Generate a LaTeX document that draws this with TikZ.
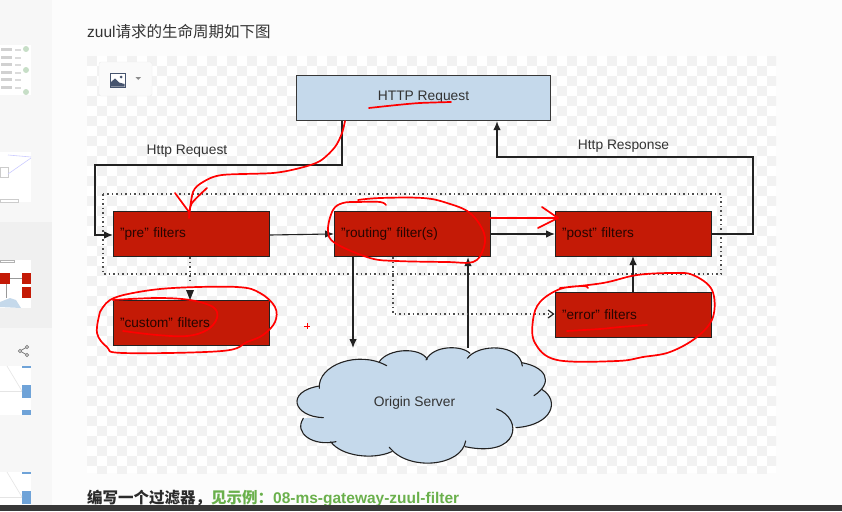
\documentclass[tikz,border=0pt]{standalone}
\usepackage{fontspec}
\setmainfont{Liberation Sans}
\newfontfamily\cjk{Noto Sans CJK SC}
\usetikzlibrary{arrows.meta,calc}
\definecolor{boxred}{HTML}{C41A06}
\definecolor{boxblue}{HTML}{C5D9EB}
\definecolor{ink}{HTML}{222222}
\definecolor{txt}{HTML}{333333}
\definecolor{chk}{HTML}{F2F2F2}
\definecolor{greenlink}{HTML}{6AB04C}
\definecolor{iconc}{HTML}{46546E}
\definecolor{thumbblue}{HTML}{6FA3D8}
\tikzset{
  x=1pt,y=-1pt,
  redbox/.style={draw=ink,line width=1.2pt,fill=boxred,minimum height=45pt,text width=143pt,minimum width=156pt,inner xsep=6.5pt,inner ysep=0pt,align=left,font=\fontsize{13.6}{15}\selectfont,text=black!80!boxred,anchor=north west},
  bluebox/.style={draw=ink!90,line width=1.2pt,fill=boxblue,minimum height=45pt,minimum width=254pt,inner sep=0pt,anchor=north west},
  lbl/.style={font=\fontsize{13.8}{15}\selectfont,text=txt,inner sep=0pt},
  conn/.style={draw=ink,line width=1.1pt,-{Latex[length=9pt,width=7.5pt]}},
  plain/.style={draw=ink,line width=1.1pt},
  dotconn/.style={draw=ink!80,line width=1.2pt,dash pattern=on 1.5pt off 3pt},
  pen/.style={draw=red,line width=1.7pt,line cap=round,line join=round},
  cloudline/.style={draw=ink,line width=1.1pt,line cap=round},
}
\def\lobeA{(118,385) .. controls (112,315) and (235,270) .. (320,317)}
\def\lobeB{(298,305) .. controls (325,265) and (420,260) .. (442,298)}
\def\lobeC{(438,300) .. controls (460,255) and (545,255) .. (570,280)}
\def\lobeD{(562,295) .. controls (595,250) and (720,250) .. (727,318)}
\def\lobeE{(725,308) .. controls (795,320) and (825,365) .. (762,407)}
\def\lobeF{(785,388) .. controls (840,420) and (820,495) .. (708,503)}
\def\lobeG{(650,447) .. controls (730,475) and (720,595) .. (555,560)}
\def\lobeH{(557,543) .. controls (545,620) and (385,635) .. (328,562)}
\def\lobeI{(335,575) .. controls (280,600) and (185,590) .. (152,545)}
\def\lobeJ{(168,545) .. controls (100,560) and (40,520) .. (70,475)}
\def\lobeK{(130,473) .. controls (40,470) and (15,395) .. (118,378)}
\begin{document}
\begin{tikzpicture}
\useasboundingbox (0,0) rectangle (842,511);
% page
\fill[white!99!black] (0,0) rectangle (842,511);
% sidebar
\fill[black!3] (0,0) rectangle (52,511);
\fill[black!6] (0,222) rectangle (52,328);
\fill[white] (0,45) rectangle (31,95);
\fill[white] (0,152) rectangle (31,202);
\fill[white] (0,260) rectangle (31,308);
\fill[white] (0,366) rectangle (31,415);
\fill[white] (0,472) rectangle (31,505);
% sidebar thumbnail details
\foreach \yy in {48,56,63,71,78,86}{\fill[black!18] (1,\yy) rectangle (12,\yy+3); \fill[black!14] (15,\yy+1) rectangle (21,\yy+3);}
\fill[green!25!gray!35] (26,49) circle (3); \fill[green!25!gray!35] (26,70) circle (3); \fill[green!25!gray!35] (26,92) circle (3);
\draw[black!20,line width=.6pt] (0,167) rectangle (8,177);
\draw[blue!20,line width=.6pt] (8,155) -- (31,157);
\draw[blue!20,line width=.6pt] (8,174) -- (31,158);
\draw[black!20,line width=.6pt] (0,199) rectangle (18,202);
\fill[boxred] (0,273) rectangle (10,284);
\fill[boxred] (22,273) rectangle (31,284);
\fill[boxred] (22,287) rectangle (31,298);
\draw[black!40,line width=.6pt] (10,278) -- (22,278);
\draw[black!40,line width=.6pt] (6,284) -- (6,298);
\fill[boxblue] (0,307) -- (0,302) -- (10,298) -- (16,300) -- (21,308) -- cycle;
\draw[black!30,line width=.6pt] (0,260) rectangle (14,262);
\foreach \yy in {366,472}{
  \fill[thumbblue] (22,\yy) rectangle (31,\yy+2);
  \fill[thumbblue] (22,\yy+19) rectangle (31,\yy+32);
  \draw[black!10,line width=.6pt] (0,\yy+25) -- (22,\yy+25);
  \draw[black!10,line width=.6pt] (7,\yy) -- (22,\yy+25);
}
\fill[thumbblue] (22,410) rectangle (31,415);
% share icon
\draw[black!55,line width=.7pt] (27,347) -- (20,351) -- (27,355);
\foreach \p in {(27,347),(20,351),(27,355)}{\filldraw[draw=black!55,fill=white,line width=.7pt] \p circle (1.7);}
% heading
\node[anchor=west,inner sep=0pt,font=\fontsize{15.5}{17}\selectfont,text=txt] (heading) at (87,32) {zuul{\cjk 请求的生命周期如下图}};
% checkerboard
\fill[white] (87,56) rectangle (776,473);
\begin{scope}
\clip (87,56) rectangle (776,473);
\foreach \i in {0,...,69}{\foreach \j in {0,...,42}{
  \pgfmathtruncatemacro{\m}{mod(\i+\j,2)}
  \ifnum\m=0 \fill[chk] (87+10*\i,56+10*\j) rectangle +(10,10);\fi
}}
\end{scope}
% icon button
\filldraw[draw=black!8,fill=white!98!black,rounded corners=2pt] (99,62) rectangle (152,96);
\filldraw[draw=iconc,fill=white,line width=.9pt] (110.5,73.5) rectangle (125,87);
\fill[iconc] (111,86.5) -- (111,82) -- (115,78.5) -- (119,82.5) -- (124.5,84) -- (124.5,86.5) -- cycle;
\fill[iconc] (121,77) circle (1.5);
\fill[black!45] (135.5,77) -- (141,77) -- (138.25,80) -- cycle;
% dotted frame
\draw[dotconn] (103,194) rectangle (721,274);
% boxes
\node[bluebox] (http) at (296,75) {};
\node[lbl] (httptext) at (423.5,97.5) {HTTP Request};
\node[redbox] (pre) at (113,211) {"pre" filters};
\node[redbox] (routing) at (334,211) {"routing" filter(s)};
\node[redbox] (post) at (555,211) {"post" filters};
\node[redbox] (custom) at (113,300) {"custom" filters};
\node[redbox] (error) at (555,292) {"error" filters};
% cloud
\coordinate (cloudin) at (353,348);
\coordinate (cloudout) at (468,348);
\begin{scope}[shift={(280,260)},x=0.3333pt,y=-0.3333pt]
\fill[boxblue] \lobeA -- \lobeB -- \lobeC -- \lobeD -- \lobeE -- \lobeF -- \lobeG -- \lobeH -- \lobeI -- \lobeJ -- \lobeK -- cycle;
\foreach \lb in {\lobeA,\lobeB,\lobeC,\lobeD,\lobeE,\lobeF,\lobeG,\lobeH,\lobeI,\lobeJ,\lobeK}{
  \draw[cloudline] \lb;
}
\end{scope}
\node[lbl] (origin) at (414.5,402.5) {Origin Server};
% coordinates for routed connectors
\coordinate (a1) at (342,165);
\coordinate (a2) at (95,165);
\coordinate (a3) at (95,235);
\coordinate (b1) at (753,234);
\coordinate (b2) at (753,157);
\coordinate (b3) at (497,157);
\coordinate (c1) at (393,314);
\coordinate (d1) at (190,290);
% connectors
\draw[conn] (a1 |- http.south) -- (a1) -- (a2) -- (a3) -- (pre.west |- a3);
\draw[plain] (pre.east |- 0,235) -- (330,234);
\draw[conn] (330,234) -- (routing.west |- 0,234);
\draw[conn] (routing.east |- 0,234) -- (post.west |- 0,234);
\draw[conn] (post.east |- b1) -- (b1) -- (b2) -- (b3) -- (b3 |- http.south);
\draw[dotconn] (d1 |- pre.south) -- (190,284);
\fill[ink] (186,290) -- (194,290) -- (190,300) -- cycle;
\draw[conn] (cloudin |- routing.south) -- (cloudin);
\draw[conn] (cloudout) -- (cloudout |- routing.south);
\draw[dotconn] (c1 |- routing.south) -- (c1) -- (548,314);
\draw[ink,line width=1.2pt] (548,310) -- (553.5,314) -- (548,318);
\draw[conn] (633,292) -- (633,256);
% edge labels
\node[lbl] (lhttp) at (187,151) {Http Request};
\node[lbl] (lresp) at (623.5,146) {Http Response};
% red pen
\draw[pen] plot[smooth,tension=.5] coordinates {(345,121) (342,133) (335,147) (320,161) (300,168) (273,173) (222,175) (203,182) (193,192) (189,218)};
\draw[pen] (175,193) -- (189,212);
\draw[pen] plot[smooth,tension=.5] coordinates {(207,188) (192,203) (189,214)};
\draw[pen] plot[smooth,tension=.5] coordinates {(369,108) (397,105) (420,103) (451,102)};
\draw[pen] plot[smooth,tension=.6] coordinates {(386,205) (380,202) (358,202) (343,203) (333,210) (328,230) (335,243) (370,258) (397,261) (447,262) (473,262) (483,250) (484,233) (470,213) (447,203) (423,198) (380,198) (358,200)};
\draw[pen] (490,218) -- (558,218);
\draw[pen] (542,207) -- (558,218) -- (538,228);
\draw[pen] plot[smooth,tension=.6] coordinates {(100,312) (110,300) (133,293) (173,288) (237,287) (260,293) (275,307) (275,322) (263,335) (247,342) (222,351) (123,353) (107,347) (97,333) (100,312)};
\draw[pen] plot[smooth,tension=.6] coordinates {(113,300) (157,298) (190,300) (213,307) (217,318) (207,330) (187,336) (157,335) (123,331)};
\draw[pen] plot[smooth,tension=.6] coordinates {(588,288) (583,286) (560,289) (540,302) (533,320) (535,343) (557,360) (617,361) (643,357) (670,352) (697,337) (713,317) (712,290) (693,275) (673,273) (637,275) (603,283) (560,288)};
\draw[pen] plot[smooth,tension=.5] coordinates {(567,331) (600,329) (620,327) (647,325)};
\draw[draw=red,line width=1pt] (304,326) -- (310,326) (307,323) -- (307,329);
% footer
\node[anchor=west,inner sep=0pt,font=\fontsize{15.5}{17}\selectfont\bfseries,text=txt!85!black] (foot) at (87,498.5) {{\cjk 编写一个过滤器，}\textcolor{greenlink}{{\cjk 见示例：}08-ms-gateway-zuul-filter}};
\fill[black!78] (0,505) rectangle (842,511);
\end{tikzpicture}
\end{document}
